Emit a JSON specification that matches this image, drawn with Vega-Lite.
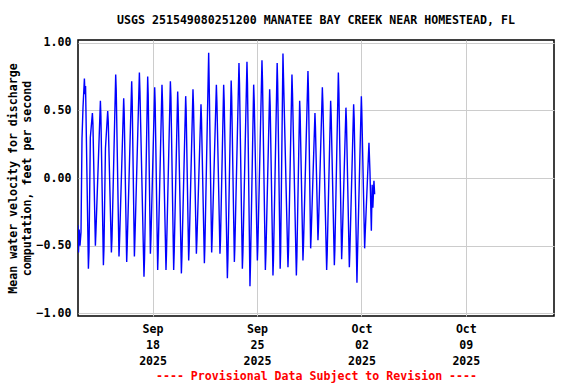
{
  "$schema": "https://vega.github.io/schema/vega-lite/v6.json",
  "width": 476,
  "height": 276,
  "autosize": {"type": "none"},
  "padding": {"left": 78, "top": 40, "right": 22, "bottom": 68},
  "background": "white",
  "config": {
    "font": "DejaVu Sans Mono",
    "view": {"stroke": "black", "strokeWidth": 1.5},
    "title": {"font": "DejaVu Sans Mono", "fontSize": 11.6, "fontWeight": "bold", "color": "black"}
  },
  "title": {"text": "USGS 251549080251200 MANATEE BAY CREEK NEAR HOMESTEAD, FL", "anchor": "middle", "offset": 10},
  "data": {"values": [
    {"t": "2025-09-13T00:00", "v": -0.35},
    {"t": "2025-09-13T00:48", "v": -0.55},
    {"t": "2025-09-13T01:56", "v": -0.38},
    {"t": "2025-09-13T03:13", "v": -0.50},
    {"t": "2025-09-13T04:50", "v": -0.40},
    {"t": "2025-09-13T06:26", "v": 0.29},
    {"t": "2025-09-13T08:03", "v": 0.52},
    {"t": "2025-09-13T10:18", "v": 0.735},
    {"t": "2025-09-13T11:16", "v": 0.62},
    {"t": "2025-09-13T12:10", "v": 0.68},
    {"t": "2025-09-13T16:44", "v": -0.67},
    {"t": "2025-09-13T17:40", "v": -0.55},
    {"t": "2025-09-13T19:50", "v": 0.30},
    {"t": "2025-09-13T23:10", "v": 0.48},
    {"t": "2025-09-14T00:00", "v": 0.40},
    {"t": "2025-09-14T03:59", "v": -0.50},
    {"t": "2025-09-14T04:50", "v": -0.40},
    {"t": "2025-09-14T12:02", "v": 0.57},
    {"t": "2025-09-14T12:50", "v": 0.46},
    {"t": "2025-09-14T16:52", "v": -0.645},
    {"t": "2025-09-14T17:45", "v": -0.52},
    {"t": "2025-09-14T20:10", "v": 0.22},
    {"t": "2025-09-14T23:47", "v": 0.495},
    {"t": "2025-09-15T00:40", "v": 0.42},
    {"t": "2025-09-15T05:44", "v": -0.55},
    {"t": "2025-09-15T06:40", "v": -0.45},
    {"t": "2025-09-15T12:39", "v": 0.765},
    {"t": "2025-09-15T13:30", "v": 0.65},
    {"t": "2025-09-15T17:57", "v": -0.58},
    {"t": "2025-09-15T18:50", "v": -0.47},
    {"t": "2025-09-16T01:31", "v": 0.59},
    {"t": "2025-09-16T02:20", "v": 0.48},
    {"t": "2025-09-16T06:20", "v": -0.62},
    {"t": "2025-09-16T07:10", "v": -0.50},
    {"t": "2025-09-16T14:23", "v": 0.715},
    {"t": "2025-09-16T15:10", "v": 0.58},
    {"t": "2025-09-16T18:44", "v": -0.58},
    {"t": "2025-09-16T19:40", "v": -0.44},
    {"t": "2025-09-17T02:46", "v": 0.78},
    {"t": "2025-09-17T03:40", "v": 0.64},
    {"t": "2025-09-17T10:10", "v": -0.73},
    {"t": "2025-09-17T11:00", "v": -0.60},
    {"t": "2025-09-17T16:07", "v": 0.75},
    {"t": "2025-09-17T16:55", "v": 0.62},
    {"t": "2025-09-17T20:28", "v": -0.56},
    {"t": "2025-09-17T21:20", "v": -0.45},
    {"t": "2025-09-18T03:23", "v": 0.67},
    {"t": "2025-09-18T04:10", "v": 0.55},
    {"t": "2025-09-18T08:12", "v": -0.68},
    {"t": "2025-09-18T09:00", "v": -0.55},
    {"t": "2025-09-18T15:07", "v": 0.69},
    {"t": "2025-09-18T16:00", "v": 0.56},
    {"t": "2025-09-18T21:34", "v": -0.68},
    {"t": "2025-09-18T22:20", "v": -0.56},
    {"t": "2025-09-19T04:38", "v": 0.715},
    {"t": "2025-09-19T05:30", "v": 0.60},
    {"t": "2025-09-19T09:56", "v": -0.68},
    {"t": "2025-09-19T10:45", "v": -0.55},
    {"t": "2025-09-19T16:23", "v": 0.64},
    {"t": "2025-09-19T17:10", "v": 0.52},
    {"t": "2025-09-19T22:20", "v": -0.705},
    {"t": "2025-09-19T23:10", "v": -0.58},
    {"t": "2025-09-20T05:15", "v": 0.605},
    {"t": "2025-09-20T06:00", "v": 0.50},
    {"t": "2025-09-20T10:04", "v": -0.61},
    {"t": "2025-09-20T10:55", "v": -0.50},
    {"t": "2025-09-20T16:59", "v": 0.655},
    {"t": "2025-09-20T17:50", "v": 0.53},
    {"t": "2025-09-20T22:28", "v": -0.56},
    {"t": "2025-09-20T23:20", "v": -0.46},
    {"t": "2025-09-21T05:52", "v": 0.545},
    {"t": "2025-09-21T06:40", "v": 0.44},
    {"t": "2025-09-21T11:20", "v": -0.63},
    {"t": "2025-09-21T12:10", "v": -0.50},
    {"t": "2025-09-21T18:14", "v": 0.925},
    {"t": "2025-09-21T19:00", "v": 0.72},
    {"t": "2025-09-21T23:04", "v": -0.55},
    {"t": "2025-09-21T23:55", "v": -0.44},
    {"t": "2025-09-22T06:38", "v": 0.69},
    {"t": "2025-09-22T07:30", "v": 0.56},
    {"t": "2025-09-22T12:25", "v": -0.56},
    {"t": "2025-09-22T13:15", "v": -0.46},
    {"t": "2025-09-22T18:22", "v": 0.69},
    {"t": "2025-09-22T19:10", "v": 0.57},
    {"t": "2025-09-23T00:19", "v": -0.74},
    {"t": "2025-09-23T01:10", "v": -0.60},
    {"t": "2025-09-23T06:26", "v": 0.72},
    {"t": "2025-09-23T07:15", "v": 0.60},
    {"t": "2025-09-23T11:35", "v": -0.62},
    {"t": "2025-09-23T12:25", "v": -0.50},
    {"t": "2025-09-23T18:59", "v": 0.85},
    {"t": "2025-09-23T19:50", "v": 0.70},
    {"t": "2025-09-24T00:27", "v": -0.67},
    {"t": "2025-09-24T01:20", "v": -0.55},
    {"t": "2025-09-24T07:51", "v": 0.86},
    {"t": "2025-09-24T08:40", "v": 0.70},
    {"t": "2025-09-24T12:41", "v": -0.80},
    {"t": "2025-09-24T13:30", "v": -0.64},
    {"t": "2025-09-24T18:38", "v": 0.69},
    {"t": "2025-09-24T19:30", "v": 0.57},
    {"t": "2025-09-25T00:35", "v": -0.61},
    {"t": "2025-09-25T01:25", "v": -0.50},
    {"t": "2025-09-25T07:59", "v": 0.87},
    {"t": "2025-09-25T08:50", "v": 0.72},
    {"t": "2025-09-25T13:27", "v": -0.68},
    {"t": "2025-09-25T14:20", "v": -0.56},
    {"t": "2025-09-25T20:22", "v": 0.655},
    {"t": "2025-09-25T21:10", "v": 0.54},
    {"t": "2025-09-26T01:41", "v": -0.72},
    {"t": "2025-09-26T02:30", "v": -0.60},
    {"t": "2025-09-26T08:26", "v": 0.85},
    {"t": "2025-09-26T09:15", "v": 0.70},
    {"t": "2025-09-26T13:16", "v": -0.67},
    {"t": "2025-09-26T14:00", "v": -0.55},
    {"t": "2025-09-26T17:46", "v": 0.92},
    {"t": "2025-09-26T18:40", "v": 0.74},
    {"t": "2025-09-27T01:49", "v": -0.66},
    {"t": "2025-09-27T02:40", "v": -0.54},
    {"t": "2025-09-27T08:14", "v": 0.765},
    {"t": "2025-09-27T09:05", "v": 0.63},
    {"t": "2025-09-27T15:19", "v": -0.72},
    {"t": "2025-09-27T16:10", "v": -0.58},
    {"t": "2025-09-27T20:38", "v": 0.57},
    {"t": "2025-09-27T21:25", "v": 0.47},
    {"t": "2025-09-28T01:56", "v": -0.61},
    {"t": "2025-09-28T02:45", "v": -0.50},
    {"t": "2025-09-28T09:59", "v": 0.79},
    {"t": "2025-09-28T10:50", "v": 0.64},
    {"t": "2025-09-28T14:19", "v": -0.52},
    {"t": "2025-09-28T15:10", "v": -0.42},
    {"t": "2025-09-28T21:14", "v": 0.48},
    {"t": "2025-09-28T22:00", "v": 0.38},
    {"t": "2025-09-29T02:04", "v": -0.46},
    {"t": "2025-09-29T02:55", "v": -0.36},
    {"t": "2025-09-29T09:08", "v": 0.67},
    {"t": "2025-09-29T10:00", "v": 0.55},
    {"t": "2025-09-29T16:04", "v": -0.68},
    {"t": "2025-09-29T16:55", "v": -0.56},
    {"t": "2025-09-29T22:29", "v": 0.57},
    {"t": "2025-09-29T23:20", "v": 0.46},
    {"t": "2025-09-30T04:26", "v": -0.645},
    {"t": "2025-09-30T05:15", "v": -0.53},
    {"t": "2025-09-30T10:53", "v": 0.78},
    {"t": "2025-09-30T11:45", "v": 0.63},
    {"t": "2025-09-30T16:11", "v": -0.60},
    {"t": "2025-09-30T17:00", "v": -0.49},
    {"t": "2025-09-30T23:06", "v": 0.52},
    {"t": "2025-09-30T23:55", "v": 0.42},
    {"t": "2025-10-01T04:34", "v": -0.66},
    {"t": "2025-10-01T05:25", "v": -0.54},
    {"t": "2025-10-01T11:29", "v": 0.545},
    {"t": "2025-10-01T12:20", "v": 0.44},
    {"t": "2025-10-01T16:48", "v": -0.775},
    {"t": "2025-10-01T17:40", "v": -0.58},
    {"t": "2025-10-01T23:53", "v": 0.605},
    {"t": "2025-10-02T00:40", "v": 0.48},
    {"t": "2025-10-02T05:11", "v": -0.52},
    {"t": "2025-10-02T06:00", "v": -0.42},
    {"t": "2025-10-02T12:07", "v": 0.26},
    {"t": "2025-10-02T13:43", "v": 0.05},
    {"t": "2025-10-02T15:58", "v": -0.39},
    {"t": "2025-10-02T17:16", "v": -0.05},
    {"t": "2025-10-02T18:23", "v": -0.22},
    {"t": "2025-10-02T20:09", "v": -0.02},
    {"t": "2025-10-02T21:18", "v": -0.12}
  ]},
  "mark": {"type": "line", "color": "#0000ff", "strokeWidth": 1.4, "clip": true},
  "encoding": {
    "x": {
      "field": "t", "type": "temporal",
      "scale": {"domain": ["2025-09-13T00:00", "2025-10-14T21:50"]},
      "axis": {
        "values": [
          {"year": 2025, "month": 9, "date": 18},
          {"year": 2025, "month": 9, "date": 25},
          {"year": 2025, "month": 10, "date": 2},
          {"year": 2025, "month": 10, "date": 9}
        ],
        "labelExpr": "[timeFormat(datum.value, '%b'), timeFormat(datum.value, '%d'), timeFormat(datum.value, '%Y')]",
        "labelFont": "DejaVu Sans Mono", "labelFontSize": 11.6, "labelFontWeight": "bold", "labelColor": "black",
        "labelLineHeight": 16, "labelPadding": 7, "labelFlush": false,
        "ticks": false, "domain": false,
        "grid": true, "gridColor": "#cccccc", "gridWidth": 1,
        "title": "---- Provisional Data Subject to Revision ----",
        "titleFont": "DejaVu Sans Mono", "titleFontSize": 11.6, "titleFontWeight": "bold", "titleColor": "#ff0000",
        "titlePadding": 4
      }
    },
    "y": {
      "field": "v", "type": "quantitative",
      "scale": {"domain": [-1.02, 1.02], "nice": false, "zero": false},
      "axis": {
        "values": [-1, -0.5, 0, 0.5, 1],
        "format": ".2f",
        "labelFont": "DejaVu Sans Mono", "labelFontSize": 11.6, "labelFontWeight": "bold", "labelColor": "black",
        "labelPadding": 7,
        "ticks": false, "domain": false,
        "grid": true, "gridColor": "#cccccc", "gridWidth": 1,
        "title": ["Mean water velocity for discharge", "computation, feet per second"],
        "titleFont": "DejaVu Sans Mono", "titleFontSize": 11.6, "titleFontWeight": "bold", "titleColor": "black",
        "titleLineHeight": 14, "titlePadding": 4
      }
    }
  }
}
